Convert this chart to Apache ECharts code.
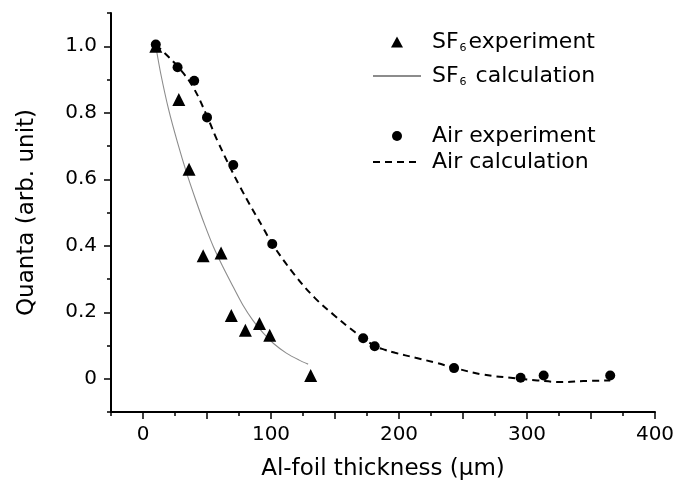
<!DOCTYPE html>
<html>
<head>
<meta charset="utf-8">
<title>Quanta vs Al-foil thickness</title>
<script src="https://cdn.jsdelivr.net/npm/echarts@6/dist/echarts.min.js"></script>
<style>
  html, body { margin: 0; padding: 0; background: #fff; }
  #chart { width: 692px; height: 487px; }
</style>
</head>
<body>
<div id="chart"></div>
<script>
// Measured transmission (SF6 and air fill) through Al foils of various thickness
const sf6ExpX = [10, 28, 36, 47, 61, 69, 80, 91, 99, 131];
const sf6ExpY = [1.0, 0.84, 0.63, 0.37, 0.378, 0.19, 0.146, 0.166, 0.131, 0.01];

const airExpX = [10, 27, 40, 50, 70.5, 101, 172, 181, 243, 295, 313, 365];
const airExpY = [1.005, 0.937, 0.896, 0.786, 0.643, 0.405, 0.122, 0.098, 0.032, 0.003, 0.01, 0.01];

// Calculated curves
const sf6CalcX = [10, 14, 20, 27, 34, 41, 48, 55, 62, 70, 78, 86, 94, 102, 112, 122, 129];
const sf6CalcY = [1.0, 0.915, 0.81, 0.71, 0.62, 0.54, 0.465, 0.397, 0.34, 0.28, 0.222, 0.175, 0.137, 0.106, 0.077, 0.056, 0.044];

const airCalcX = [10, 16, 28, 39, 50, 58, 76, 95, 101, 118, 134, 150, 166, 181, 189, 197, 213, 229, 243, 265, 292, 308, 328, 344, 365];
const airCalcY = [1.005, 0.983, 0.935, 0.878, 0.79, 0.717, 0.576, 0.446, 0.405, 0.315, 0.244, 0.189, 0.139, 0.099, 0.087, 0.078, 0.063, 0.048, 0.033, 0.013, 0.001, -0.005, -0.01, -0.007, -0.005];

// Axis ticks and labels
const xMajorTicks = [0, 50, 100, 150, 200, 250, 300, 350, 400];
const xLabels = [0, 100, 200, 300, 400];
const yMajorTicks = [0, 0.2, 0.4, 0.6, 0.8, 1.0];
const yLabels = [0, 0.2, 0.4, 0.6, 0.8, 1.0];

const FONT = '"DejaVu Sans", "Liberation Sans", Arial, sans-serif';
const INK = '#000';
const zip = (xs, ys) => xs.map((x, i) => [x, ys[i]]);

// Legend text with a subscript 6 in SF6
const legendRich = {
  t: { fontSize: 22, fontFamily: FONT, color: INK, lineHeight: 24 },
  s: { fontSize: 11, fontFamily: FONT, color: INK, lineHeight: 11, verticalAlign: 'bottom', padding: [10, 2, 0, 1] }
};
const legendFormatter = name => {
  if (name === 'SF6 experiment') return '{t|SF}{s|6}{t|experiment}';
  if (name === 'SF6 calculation') return '{t|SF}{s|6}{t| calculation}';
  return '{t|' + name + '}';
};
const TRIANGLE_ICON = 'path://M6,0 L12,11 L0,11 Z';
const CIRCLE_ICON = 'path://M5,0 A5,5 0 1 1 4.999,0 Z';
const hiddenSymbol = { color: 'rgba(0,0,0,0)', borderWidth: 0 };

const chart = echarts.init(document.getElementById('chart'), null, { renderer: 'canvas' });
chart.setOption({
  animation: false,
  backgroundColor: '#fff',
  textStyle: { fontFamily: FONT },
  grid: { left: 111, right: 37, top: 13, bottom: 75 },
  legend: [
    {
      data: [
        { name: 'SF6 experiment', icon: TRIANGLE_ICON },
        { name: 'SF6 calculation', itemStyle: hiddenSymbol }
      ],
      orient: 'vertical', left: 372, top: 31, padding: 0,
      itemWidth: 48, itemHeight: 11, itemGap: 11, symbolKeepAspect: true,
      formatter: legendFormatter,
      textStyle: { rich: legendRich, padding: [0, 0, 0, 6] },
      selectedMode: false
    },
    {
      data: [
        { name: 'Air experiment', icon: CIRCLE_ICON },
        { name: 'Air calculation', itemStyle: hiddenSymbol }
      ],
      orient: 'vertical', left: 372, top: 125, padding: 0,
      itemWidth: 48, itemHeight: 10, itemGap: 4, symbolKeepAspect: true,
      formatter: legendFormatter,
      textStyle: { rich: legendRich, padding: [0, 0, 0, 6] },
      selectedMode: false
    }
  ],
  xAxis: [
    {
      type: 'value', min: -25, max: 400,
      name: 'Al-foil thickness (\u03bcm)', nameLocation: 'middle', nameGap: 46,
      nameTextStyle: { fontSize: 23, color: INK, fontFamily: FONT },
      axisLine: { onZero: false, lineStyle: { color: INK, width: 2 } },
      axisTick: { customValues: xMajorTicks, length: 7, lineStyle: { color: INK, width: 1.5 } },
      axisLabel: { customValues: xLabels, margin: 13, fontSize: 20, color: INK, fontFamily: FONT },
      splitLine: { show: false }
    },
    {
      type: 'value', min: -25, max: 400, interval: 25, position: 'bottom',
      axisLine: { show: false, onZero: false },
      axisTick: { length: 4, lineStyle: { color: INK, width: 1.5 } },
      axisLabel: { show: false },
      splitLine: { show: false }
    }
  ],
  yAxis: [
    {
      type: 'value', min: -0.1, max: 1.1,
      name: 'Quanta (arb. unit)', nameLocation: 'middle', nameGap: 72,
      nameTextStyle: { fontSize: 23, color: INK, fontFamily: FONT },
      axisLine: { onZero: false, lineStyle: { color: INK, width: 2 } },
      axisTick: { customValues: yMajorTicks, length: 7, lineStyle: { color: INK, width: 1.5 } },
      axisLabel: {
        customValues: yLabels, margin: 14, fontSize: 20, color: INK, fontFamily: FONT,
        formatter: v => (Math.abs(v) < 1e-9 ? '0' : v.toFixed(1))
      },
      splitLine: { show: false }
    },
    {
      type: 'value', min: -0.1, max: 1.1, interval: 0.1, position: 'left',
      axisLine: { show: false, onZero: false },
      axisTick: { length: 4, lineStyle: { color: INK, width: 1.5 } },
      axisLabel: { show: false },
      splitLine: { show: false }
    }
  ],
  series: [
    {
      name: 'SF6 calculation', type: 'line', data: zip(sf6CalcX, sf6CalcY),
      smooth: 0.3, symbol: 'none',
      lineStyle: { color: '#8c8c8c', width: 1.1 },
      itemStyle: { color: '#8c8c8c' }, z: 2
    },
    {
      name: 'Air calculation', type: 'line', data: zip(airCalcX, airCalcY),
      smooth: 0.4, symbol: 'none',
      lineStyle: { color: INK, width: 2, type: [7, 5] },
      itemStyle: { color: INK }, z: 2
    },
    {
      name: 'SF6 experiment', type: 'scatter', data: zip(sf6ExpX, sf6ExpY),
      symbol: 'triangle', symbolSize: 13,
      itemStyle: { color: INK, opacity: 1 }, z: 3
    },
    {
      name: 'Air experiment', type: 'scatter', data: zip(airExpX, airExpY),
      symbol: 'circle', symbolSize: 10,
      itemStyle: { color: INK, opacity: 1 }, z: 3
    }
  ]
});
</script>
</body>
</html>
